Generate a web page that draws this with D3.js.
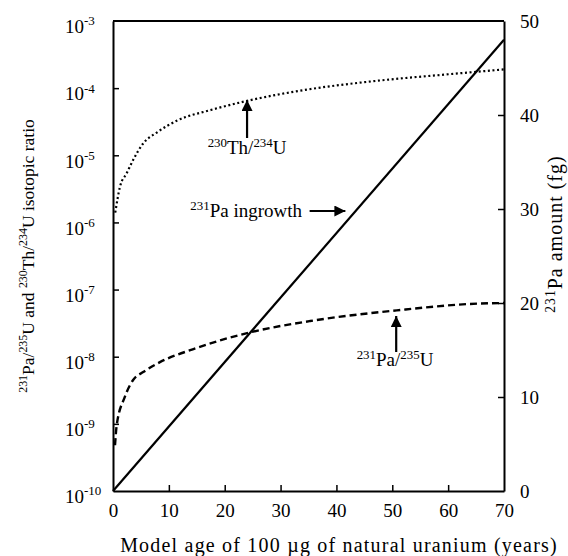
<!DOCTYPE html>
<html>
<head>
<meta charset="utf-8">
<script src="https://cdn.jsdelivr.net/npm/d3@7"></script>
<style>
  body { margin: 0; background: #fff; }
  svg, svg text, svg tspan { font-family: 'Liberation Serif', 'DejaVu Serif', 'Times New Roman', serif; fill: #000; }
</style>
</head>
<body>
<div id="chart"></div>
<script>
// values
var thYears  = [0.4, 1.25, 2.45, 3.6, 5.4, 7.9, 11.5, 17.4, 24.5, 34.7, 47.8, 59.7, 70];
var thRatio  = [1.4e-6, 3.4e-6, 5.4e-6, 8.5e-6, 1.5e-5, 2.2e-5, 3.3e-5, 4.7e-5, 6.6e-5, 9.5e-5, 1.3e-4, 1.6e-4, 1.9e-4];
var paYears  = [0.36, 0.66, 2.1, 3.6, 5.4, 8.4, 14.4, 24.5, 35.3, 50.8, 65.7, 70];
var paRatio  = [4.8e-10, 9.5e-10, 2.5e-9, 4.5e-9, 5.9e-9, 8.3e-9, 1.3e-8, 2.3e-8, 3.4e-8, 4.9e-8, 6.2e-8, 6.3e-8];
var growYears = [0, 70];
var growFg    = [0, 48];

var xTicks = [0, 10, 20, 30, 40, 50, 60, 70];
var leftTicks = [-10, -9, -8, -7, -6, -5, -4, -3];
var rightTicks = [0, 10, 20, 30, 40, 50];

var FONT = "Liberation Serif";
var width = 568, height = 556;
var margin = {top: 21, right: 64, bottom: 65, left: 113};

var svg = d3.select("#chart").append("svg")
    .attr("width", width)
    .attr("height", height)
    .attr("font-family", FONT);

var x = d3.scaleLinear().domain([0, 70]).range([margin.left, width - margin.right]);
var yLog = d3.scaleLog().domain([1e-10, 1e-3]).range([height - margin.bottom, margin.top]);
var yLin = d3.scaleLinear().domain([0, 50]).range([height - margin.bottom, margin.top]);

// frame (top line)
svg.append("line")
    .attr("x1", x(0)).attr("x2", x(70))
    .attr("y1", yLog(1e-3)).attr("y2", yLog(1e-3))
    .attr("stroke", "#000").attr("stroke-width", 2);

// bottom axis, ticks pointing up
var xAxis = svg.append("g")
    .attr("transform", "translate(0," + (height - margin.bottom) + ")")
    .call(d3.axisBottom(x).tickValues(xTicks).tickSizeInner(-6).tickSizeOuter(0).tickPadding(13));
xAxis.attr("font-family", FONT);
xAxis.select(".domain").attr("stroke-width", 2);
xAxis.selectAll(".tick line").attr("stroke-width", 1.5)
    .filter(function(d){ return d == 0 || d == 70; }).remove();
xAxis.selectAll("text").attr("font-size", 19);

// left log axis, ticks inward
var lAxis = svg.append("g")
    .attr("transform", "translate(" + margin.left + ",0)")
    .call(d3.axisLeft(yLog).tickValues(leftTicks.map(function(e){ return Math.pow(10, e); }))
        .tickSizeInner(-6).tickSizeOuter(0).tickPadding(20).tickFormat(""));
lAxis.attr("font-family", FONT);
lAxis.select(".domain").attr("stroke-width", 2);
lAxis.selectAll(".tick line").attr("stroke-width", 1.5)
    .filter(function(d){ return d == 1e-10 || d == 1e-3; }).remove();
lAxis.selectAll(".tick text").each(function(d){
    var t = d3.select(this)
        .attr("x", -48).attr("dy", "0.62em")
        .attr("font-size", 19)
        .attr("text-anchor", "start");
    t.text("10");
    t.append("tspan").attr("dy", "-0.6em").attr("font-size", 13)
        .text("-" + Math.round(-Math.log10(d)));
});

// right linear axis, ticks inward
var rAxis = svg.append("g")
    .attr("transform", "translate(" + (width - margin.right) + ",0)")
    .call(d3.axisRight(yLin).tickValues(rightTicks).tickSizeInner(-6).tickSizeOuter(0).tickPadding(16));
rAxis.attr("font-family", FONT);
rAxis.select(".domain").attr("stroke-width", 2);
rAxis.selectAll(".tick line").attr("stroke-width", 1.5)
    .filter(function(d){ return d == 0 || d == 50; }).remove();
rAxis.selectAll("text").attr("font-size", 19);

// curves
var thLine = d3.line()
    .x(function(d, i){ return x(thYears[i]); })
    .y(function(d){ return yLog(d); })
    .curve(d3.curveMonotoneX);
svg.append("path").datum(thRatio)
    .attr("d", thLine)
    .attr("fill", "none").attr("stroke", "#000")
    .attr("stroke-width", 2.2).attr("stroke-dasharray", "2,2.6");

var paLine = d3.line()
    .x(function(d, i){ return x(paYears[i]); })
    .y(function(d){ return yLog(d); })
    .curve(d3.curveMonotoneX);
svg.append("path").datum(paRatio)
    .attr("d", paLine)
    .attr("fill", "none").attr("stroke", "#000")
    .attr("stroke-width", 2.4).attr("stroke-dasharray", "7,4");

var growLine = d3.line()
    .x(function(d, i){ return x(growYears[i]); })
    .y(function(d){ return yLin(d); });
svg.append("path").datum(growFg)
    .attr("d", growLine)
    .attr("fill", "none").attr("stroke", "#000")
    .attr("stroke-width", 2.2);

// arrows
svg.append("defs").append("marker")
    .attr("id", "head")
    .attr("viewBox", "0 0 10 10")
    .attr("refX", 10).attr("refY", 5)
    .attr("markerUnits", "userSpaceOnUse")
    .attr("markerWidth", 16).attr("markerHeight", 11)
    .attr("orient", "auto")
  .append("path").attr("d", "M0,0L10,5L0,10Z").attr("fill", "#000");

function arrow(x1, y1, x2, y2) {
    svg.append("line")
        .attr("x1", x1).attr("y1", y1).attr("x2", x2).attr("y2", y2)
        .attr("stroke", "#000").attr("stroke-width", 2.2)
        .attr("marker-end", "url(#head)");
}
arrow(x(24), 138, x(24), 100);
arrow(x(35.2), 211, x(41.6), 211);
arrow(x(50.7), 352, x(50.7), 316);

// label with superscripts: parts = [[text, sup?], ...]
function label(parent, parts, size) {
    parts.forEach(function(p){
        parent.append("tspan")
            .attr("font-size", p[1] ? size * 0.68 : size)
            .attr("baseline-shift", p[1] ? "super" : "baseline")
            .text(p[0]);
    });
    return parent;
}

label(svg.append("text").attr("x", x(24)).attr("y", 154).attr("text-anchor", "middle"),
    [["230", 1], ["Th/", 0], ["234", 1], ["U", 0]], 19);
label(svg.append("text").attr("x", 302).attr("y", 217).attr("text-anchor", "end"),
    [["231", 1], ["Pa ingrowth", 0]], 19);
label(svg.append("text").attr("x", 395).attr("y", 366).attr("text-anchor", "middle"),
    [["231", 1], ["Pa/", 0], ["235", 1], ["U", 0]], 19);

// axis titles
svg.append("text")
    .attr("x", 339).attr("y", 552)
    .attr("text-anchor", "middle").attr("font-size", 20)
    .attr("letter-spacing", 1.2)
    .text("Model age of 100 \u00b5g of natural uranium (years)");

label(svg.append("text")
    .attr("transform", "translate(34,256) rotate(-90)")
    .attr("text-anchor", "middle"),
    [["231", 1], ["Pa/", 0], ["235", 1], ["U and ", 0], ["230", 1], ["Th/", 0], ["234", 1], ["U isotopic ratio", 0]], 17.5);

label(svg.append("text")
    .attr("transform", "translate(562,234) rotate(-90)")
    .attr("text-anchor", "middle")
    .attr("letter-spacing", 1),
    [["231", 1], ["Pa amount (fg)", 0]], 20);
</script>
</body>
</html>
